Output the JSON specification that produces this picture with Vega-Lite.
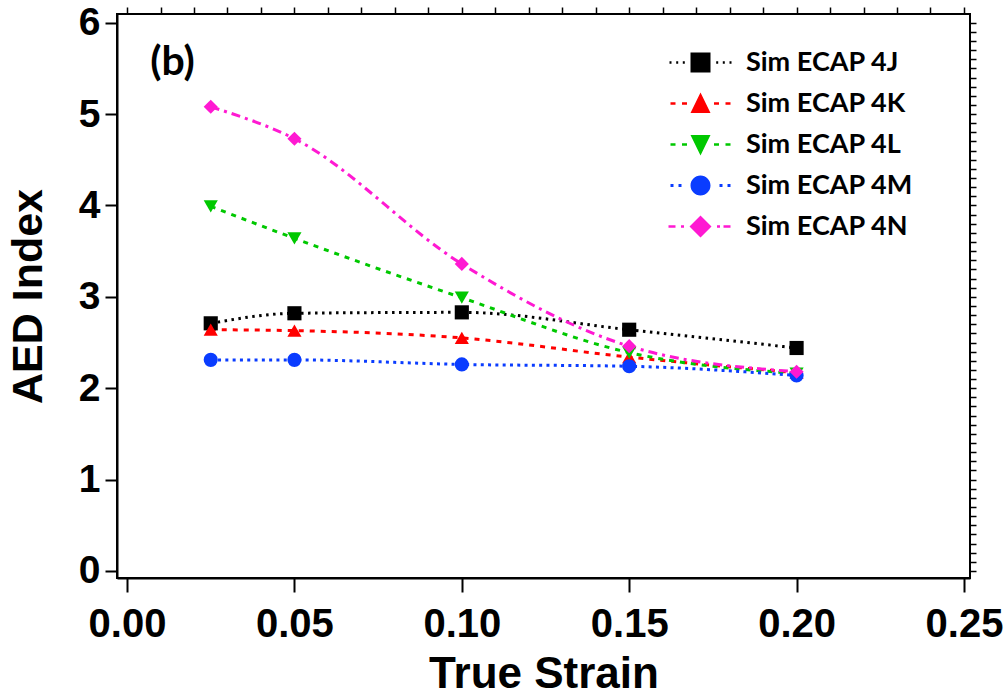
{
  "$schema": "https://vega.github.io/schema/vega-lite/v6.json",
  "width": 853,
  "height": 564,
  "autosize": "none",
  "padding": {"left": 117, "top": 14, "right": 38, "bottom": 120},
  "background": "white",
  "config": {
    "view": {"stroke": "black", "strokeWidth": 2},
    "axis": {"grid": false, "domainColor": "black", "tickColor": "black", "labelColor": "black", "titleColor": "black", "labelFont": "Liberation Sans", "titleFont": "Liberation Sans", "labelFontWeight": "bold", "titleFontWeight": "bold"}
  },
  "datasets": {
    "pts": [
      {"series": "Sim ECAP 4J", "strain": 0.025, "aed": 2.71},
      {"series": "Sim ECAP 4J", "strain": 0.05, "aed": 2.82},
      {"series": "Sim ECAP 4J", "strain": 0.10, "aed": 2.83},
      {"series": "Sim ECAP 4J", "strain": 0.15, "aed": 2.64},
      {"series": "Sim ECAP 4J", "strain": 0.20, "aed": 2.44},
      {"series": "Sim ECAP 4K", "strain": 0.025, "aed": 2.64},
      {"series": "Sim ECAP 4K", "strain": 0.05, "aed": 2.63},
      {"series": "Sim ECAP 4K", "strain": 0.10, "aed": 2.55},
      {"series": "Sim ECAP 4K", "strain": 0.15, "aed": 2.34},
      {"series": "Sim ECAP 4K", "strain": 0.20, "aed": 2.17},
      {"series": "Sim ECAP 4L", "strain": 0.025, "aed": 3.99},
      {"series": "Sim ECAP 4L", "strain": 0.05, "aed": 3.64},
      {"series": "Sim ECAP 4L", "strain": 0.10, "aed": 2.99},
      {"series": "Sim ECAP 4L", "strain": 0.15, "aed": 2.39},
      {"series": "Sim ECAP 4L", "strain": 0.20, "aed": 2.16},
      {"series": "Sim ECAP 4M", "strain": 0.025, "aed": 2.31},
      {"series": "Sim ECAP 4M", "strain": 0.05, "aed": 2.31},
      {"series": "Sim ECAP 4M", "strain": 0.10, "aed": 2.26},
      {"series": "Sim ECAP 4M", "strain": 0.15, "aed": 2.24},
      {"series": "Sim ECAP 4M", "strain": 0.20, "aed": 2.14},
      {"series": "Sim ECAP 4N", "strain": 0.025, "aed": 5.08},
      {"series": "Sim ECAP 4N", "strain": 0.05, "aed": 4.73},
      {"series": "Sim ECAP 4N", "strain": 0.10, "aed": 3.36},
      {"series": "Sim ECAP 4N", "strain": 0.15, "aed": 2.46},
      {"series": "Sim ECAP 4N", "strain": 0.20, "aed": 2.18}
    ],
    "panel": [{"tag": "(b)"}]
  },
  "data": {"name": "pts"},
  "resolve": {
    "scale": {"shape": "independent"},
    "axis": {"x": "independent", "y": "independent"},
    "legend": {"color": "independent", "shape": "independent", "strokeDash": "independent"}
  },
  "layer": [
    {
      "mark": {"type": "line", "interpolate": "monotone", "strokeWidth": 3},
      "encoding": {
        "x": {"field": "strain", "type": "quantitative", "scale": {"domain": [-0.003, 0.2518], "nice": false, "zero": false},
          "axis": {"values": [0, 0.05, 0.1, 0.15, 0.2, 0.25], "format": ".2f", "title": "True Strain", "labelFontSize": 40, "titleFontSize": 44, "tickSize": 14, "tickWidth": 2, "domainWidth": 2, "labelPadding": 12, "titlePadding": 8, "labelFlush": false}},
        "y": {"field": "aed", "type": "quantitative", "scale": {"domain": [-0.077, 6.095], "nice": false, "zero": false},
          "axis": {"values": [0, 1, 2, 3, 4, 5, 6], "format": "d", "title": "AED Index", "labelFontSize": 39, "titleFontSize": 43, "tickSize": 12, "tickWidth": 2, "domainWidth": 2, "labelPadding": 5, "titlePadding": 28, "labelFlush": false}},
        "color": {"field": "series", "type": "nominal", "legend": null,
          "scale": {"domain": ["Sim ECAP 4J", "Sim ECAP 4K", "Sim ECAP 4L", "Sim ECAP 4M", "Sim ECAP 4N"], "range": ["#000000", "#ff0000", "#00c800", "#0a3cff", "#ff19d2"]}},
        "strokeDash": {"field": "series", "type": "nominal", "legend": null,
          "scale": {"domain": ["Sim ECAP 4J", "Sim ECAP 4K", "Sim ECAP 4L", "Sim ECAP 4M", "Sim ECAP 4N"], "range": [[2.5, 4.5], [5, 6], [5, 6], [3, 4.3], [9, 5, 3, 5]]}}
      }
    },
    {
      "mark": {"type": "point", "filled": true, "opacity": 1, "size": 200},
      "encoding": {
        "x": {"field": "strain", "type": "quantitative",
          "axis": {"values": [0, 0.01, 0.02, 0.03, 0.04, 0.05, 0.06, 0.07, 0.08, 0.09, 0.1, 0.11, 0.12, 0.13, 0.14, 0.15, 0.16, 0.17, 0.18, 0.19, 0.2, 0.21, 0.22, 0.23, 0.24, 0.25], "labels": false, "domain": false, "title": null, "tickSize": 7, "tickWidth": 1.5}},
        "y": {"field": "aed", "type": "quantitative",
          "axis": {"values": [0, 0.1, 0.2, 0.3, 0.4, 0.5, 0.6, 0.7, 0.8, 0.9, 1, 1.1, 1.2, 1.3, 1.4, 1.5, 1.6, 1.7, 1.8, 1.9, 2, 2.1, 2.2, 2.3, 2.4, 2.5, 2.6, 2.7, 2.8, 2.9, 3, 3.1, 3.2, 3.3, 3.4, 3.5, 3.6, 3.7, 3.8, 3.9, 4, 4.1, 4.2, 4.3, 4.4, 4.5, 4.6, 4.7, 4.8, 4.9, 5, 5.1, 5.2, 5.3, 5.4, 5.5, 5.6, 5.7, 5.8, 5.9, 6], "labels": false, "domain": false, "title": null, "tickSize": 6, "tickWidth": 1.5}},
        "color": {"field": "series", "type": "nominal", "legend": null},
        "shape": {"field": "series", "type": "nominal", "legend": null,
          "scale": {"domain": ["Sim ECAP 4J", "Sim ECAP 4K", "Sim ECAP 4L", "Sim ECAP 4M", "Sim ECAP 4N"], "range": ["square", "triangle-up", "triangle-down", "circle", "diamond"]}}
      }
    },
    {
      "transform": [{"filter": "false"}],
      "mark": {"type": "point", "filled": true, "opacity": 1},
      "encoding": {
        "x": {"field": "strain", "type": "quantitative", "axis": null},
        "y": {"field": "aed", "type": "quantitative", "axis": null},
        "color": {"field": "series", "type": "nominal",
          "legend": {"title": null, "orient": "none", "legendX": 570, "legendY": 35, "padding": 0, "symbolSize": 400, "symbolStrokeWidth": 0, "labelOffset": 32, "rowPadding": 13, "labelFont": "Lato", "labelFontSize": 27, "labelFontWeight": "bold", "labelColor": "black", "labelLimit": 300}},
        "shape": {"field": "series", "type": "nominal",
          "scale": {"domain": ["Sim ECAP 4J", "Sim ECAP 4K", "Sim ECAP 4L", "Sim ECAP 4M", "Sim ECAP 4N"],
            "range": [
              "M-3.1,-0.12h0.2v0.24h-0.2Z M-2.43,-0.12h0.2v0.24h-0.2Z M-1.77,-0.12h0.2v0.24h-0.2Z M1.57,-0.12h0.2v0.24h-0.2Z M2.23,-0.12h0.2v0.24h-0.2Z M2.9,-0.12h0.2v0.24h-0.2Z M-1,-1H1V1H-1Z",
              "M-3,-0.12H-2.5V0.12H-3Z M-1.85,-0.12H-1.35V0.12H-1.85Z M1.35,-0.12H1.85V0.12H1.35Z M2.5,-0.12H3V0.12H2.5Z M0,-1.1L1,0.95H-1Z",
              "M-3,-0.12H-2.5V0.12H-3Z M-1.85,-0.12H-1.35V0.12H-1.85Z M1.35,-0.12H1.85V0.12H1.35Z M2.5,-0.12H3V0.12H2.5Z M-1,-0.95H1L0,1.1Z",
              "M-3,-0.15h0.3v0.3h-0.3Z M-2.2,-0.15h0.3v0.3h-0.3Z M1.9,-0.15h0.3v0.3h-0.3Z M2.7,-0.15h0.3v0.3h-0.3Z M-1,0A1,1,0,1,0,1,0A1,1,0,1,0,-1,0Z",
              "M-3.2,-0.12H-2.5V0.12H-3.2Z M-1.95,-0.12H-1.65V0.12H-1.95Z M1.65,-0.12H1.95V0.12H1.65Z M2.3,-0.12H3V0.12H2.3Z M0,-1.1L1.1,0L0,1.1L-1.1,0Z"
            ]},
          "legend": {"title": null, "orient": "none", "legendX": 570, "legendY": 35, "padding": 0, "symbolSize": 400, "symbolStrokeWidth": 0, "labelOffset": 32, "rowPadding": 13, "labelFont": "Lato", "labelFontSize": 27, "labelFontWeight": "bold", "labelColor": "black", "labelLimit": 300}}
      }
    },
    {
      "data": {"name": "panel"},
      "mark": {"type": "text", "align": "left", "baseline": "alphabetic", "font": "Lato", "fontSize": 41, "fontWeight": "bold", "color": "black"},
      "encoding": {
        "x": {"datum": 0.0069, "type": "quantitative", "axis": null},
        "y": {"datum": 5.43, "type": "quantitative", "axis": null},
        "text": {"field": "tag"}
      }
    }
  ]
}
